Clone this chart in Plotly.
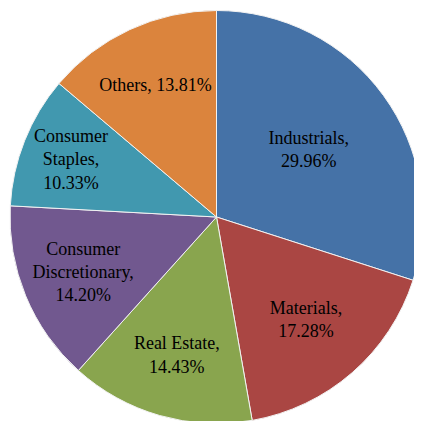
import plotly.graph_objects as go

categories = ["Industrials", "Materials", "Real Estate",
              "Consumer Discretionary", "Consumer Staples", "Others"]
display_labels = ["Industrials,", "Materials,", "Real Estate,",
                  "Consumer<br>Discretionary,", "Consumer<br>Staples,", "Others,"]
label_separators = ["<br>", "<br>", "<br>", "<br>", "<br>", " "]
shares = [29.96, 17.28, 14.43, 14.20, 10.33, 13.81]
colors = ["#4572A7", "#AA4643", "#89A54E", "#71588F", "#4198AF", "#DB843D"]

texts = [f"{d}{s}{v:.2f}%" for d, s, v in zip(display_labels, label_separators, shares)]

fig = go.Figure(go.Pie(
    labels=categories,
    values=shares,
    text=texts,
    textinfo="text",
    textposition="inside",
    insidetextorientation="horizontal",
    sort=False,
    direction="clockwise",
    rotation=0,
    marker=dict(colors=colors, line=dict(color="#f2f2f2", width=1)),
    textfont=dict(family="Liberation Serif", size=18, color="black"),
    domain=dict(x=[2/422, 415/422], y=[5.5/421, 418.5/421]),
    showlegend=False,
    hoverinfo="none",
))

fig.update_layout(
    width=422, height=421,
    margin=dict(l=0, r=0, t=0, b=0),
    paper_bgcolor="white",
    plot_bgcolor="white",
    uniformtext=dict(minsize=18, mode="show"),
)

fig.write_html("out.html")
